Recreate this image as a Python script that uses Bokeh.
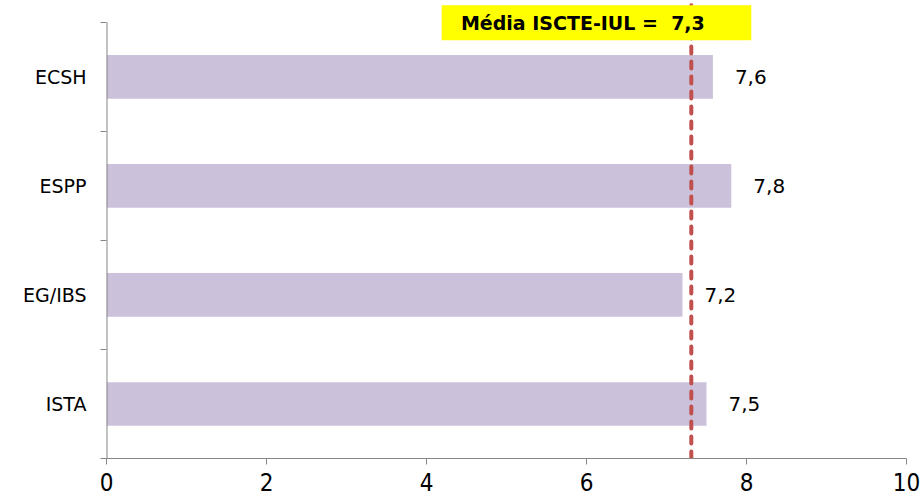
from bokeh.plotting import figure
from bokeh.models import Range1d, FixedTicker, BoxAnnotation, Label, ColumnDataSource
from bokeh.core.properties import value
from bokeh.embed import file_html
from bokeh.resources import INLINE

# ---- data ----
categories = ["ECSH", "ESPP", "EG/IBS", "ISTA"]   # top to bottom
scores = [7.58, 7.81, 7.2, 7.5]
mean_value = 7.31
mean_label = "Média ISCTE-IUL =  7,3"
x_ticks = [0, 2, 4, 6, 8, 10]

# ---- layout / style ----
n = len(categories)
y_top = n + 0.2
box_top = n + 0.156
box_bottom = n - 0.165
positions = [n - i - 0.5 for i in range(n)]
labels = [f"{v:.1f}".replace(".", ",") for v in scores]

src = ColumnDataSource(dict(y=positions, v=scores, lab=labels))

p = figure(width=923, height=497, output_backend="svg", toolbar_location=None,
           x_range=Range1d(0, 10), y_range=Range1d(0, y_top),
           min_border_left=106, min_border_right=17, min_border_top=0,
           min_border_bottom=39)
p.outline_line_color = None
p.xgrid.visible = False
p.ygrid.visible = False
p.background_fill_color = "white"

axis_color = "#868686"

p.hbar(y="y", right="v", left=0, height=0.4, source=src,
       fill_color="#CCC1DA", line_color=None)

p.text(x="v", y="y", text="lab", source=src, x_offset=22,
       text_baseline="middle", text_align="left",
       text_font=value("DejaVu Sans"), text_font_size="20px", text_color="black")

# y axis line drawn manually (only over the category area)
p.segment(x0=0, y0=0, x1=0, y1=n, line_color=axis_color, line_width=2)

# mean line
p.segment(x0=mean_value, y0=0, x1=mean_value, y1=box_top, line_color="#C0504D",
          line_width=4, line_dash="7 8", line_cap="round")

box = BoxAnnotation(left=4.19, right=8.06, bottom=box_bottom, top=box_top,
                    fill_color="#FFFF00", fill_alpha=1.0, line_color=None)
p.add_layout(box)
p.add_layout(Label(x=4.43, y=(box_bottom + box_top) / 2,
                   text=mean_label.replace("  ", " \u00a0"),
                   text_baseline="middle", text_align="left",
                   text_font="DejaVu Sans", text_font_style="bold",
                   text_font_size="19px", text_color="black"))

# x axis
p.xaxis.ticker = FixedTicker(ticks=x_ticks)
p.xaxis.axis_line_color = axis_color
p.xaxis.major_tick_line_color = axis_color
p.xaxis.major_tick_out = 6
p.xaxis.major_tick_in = 0
p.xaxis.minor_tick_line_color = None
p.xaxis.major_label_text_font = "'DejaVu Sans Condensed', 'DejaVu Sans'"
p.xaxis.major_label_text_font_size = "24px"
p.xaxis.major_label_text_color = "black"
p.xaxis.major_label_standoff = 8

# y axis
p.yaxis.ticker = FixedTicker(ticks=positions, minor_ticks=list(range(n + 1)))
p.yaxis.major_label_overrides = {pos: c for pos, c in zip(positions, categories)}
p.yaxis.axis_line_color = None
p.yaxis.major_tick_line_color = None
p.yaxis.minor_tick_line_color = axis_color
p.yaxis.minor_tick_out = 6
p.yaxis.minor_tick_in = 0
p.yaxis.major_label_text_font = "DejaVu Sans"
p.yaxis.major_label_text_font_size = "19px"
p.yaxis.major_label_text_color = "black"
p.yaxis.major_label_standoff = 14

open("out.html", "w").write(file_html(p, INLINE))
